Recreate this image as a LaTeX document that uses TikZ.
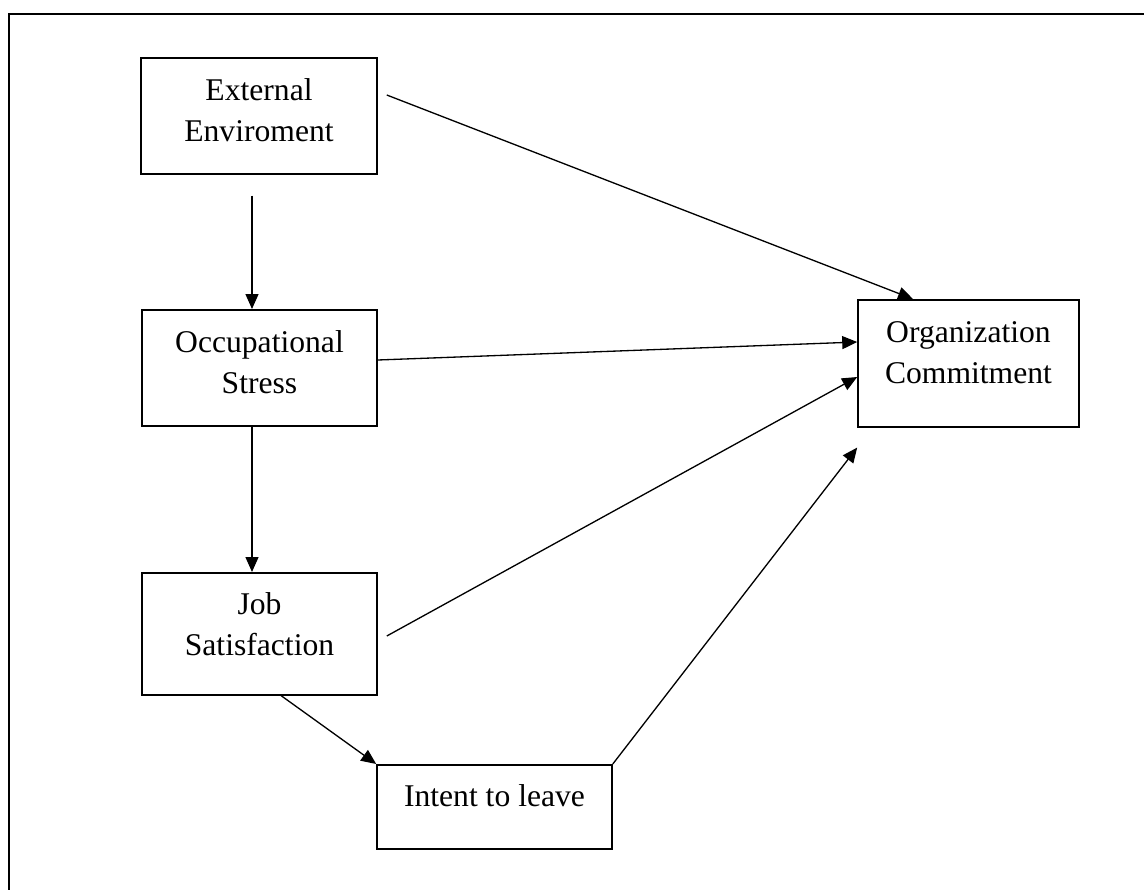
\documentclass[tikz,border=0pt]{standalone}
\usepackage{fontspec}
\setmainfont{Liberation Serif}
\usepackage{tikz}
\usetikzlibrary{arrows.meta}

\begin{document}
\begin{tikzpicture}[x=0.02cm, y=-0.02cm,
  box/.style={draw, line width=0.9pt, inner sep=0pt, anchor=north, align=center,
    font=\fontsize{18pt}{23.3pt}\selectfont},
  arr/.style={line width=0.75pt, -{Triangle[length=0.3cm,width=0.26cm]}}]
\clip (0,0) rectangle (1144,890);
% cadre
\draw[line width=1.3pt] (9,14) rectangle (1160,910);
% boites de gauche
\node[box, minimum width=236*0.02cm, text height=1.68cm, text depth=0.64cm] (ext) at (259,57) {External\\Enviroment};
\node[box, minimum width=235*0.02cm, text height=1.68cm, text depth=0.64cm] (occ) at (259.5,309) {Occupational\\Stress};
\node[box, minimum width=235*0.02cm, text height=1.66cm, text depth=0.78cm] (job) at (259.5,572) {Job\\Satisfaction};
% boite du bas
\node[box, minimum width=235*0.02cm, text height=0.84cm, text depth=0.84cm] (int) at (494.5,764) {Intent to leave};
% boite de droite
\node[box, minimum width=221*0.02cm, text height=1.68cm, text depth=0.86cm] (org) at (968.5,299) {Organization\\Commitment};
% fleches verticales
\draw[arr] ([shift={(-7,21)}]ext.south) -- ([shift={(-7.5,0)}]occ.north);
\draw[arr] ([shift={(-7.5,0)}]occ.south) -- ([shift={(-7.5,0)}]job.north);
% fleches vers org
\draw[arr] ([shift={(9,38)}]ext.north east) -- ([shift={(-55.5,0)}]org.north);
\draw[arr] ([shift={(0,51)}]occ.north east) -- ([shift={(0,43)}]org.north west);
\draw[arr] ([shift={(9,64)}]job.north east) -- ([shift={(0,78)}]org.north west);
\draw[arr] (int.north east) -- ([shift={(0,20)}]org.south west);
% job vers intent
\draw[arr] ([shift={(21.5,0)}]job.south) -- (int.north west);
\end{tikzpicture}
\end{document}
